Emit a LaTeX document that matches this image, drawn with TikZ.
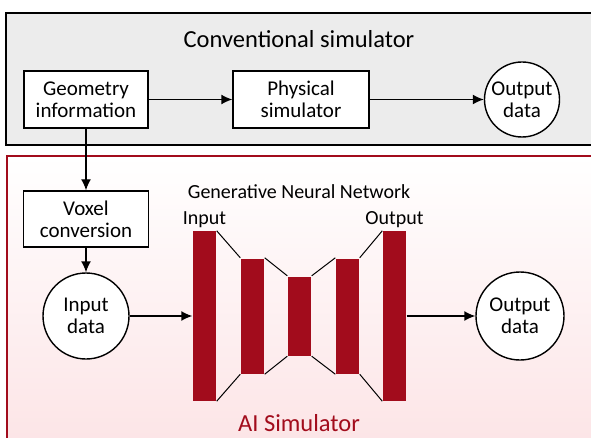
\documentclass[tikz,border=0pt]{standalone}
\usepackage{fontspec}
\setmainfont{Carlito}
\usetikzlibrary{arrows.meta,positioning}
\definecolor{fjred}{RGB}{162,12,28}
\definecolor{panelgray}{RGB}{236,236,236}
\definecolor{panelpink}{RGB}{252,226,228}

\begin{document}
\begin{tikzpicture}[x=1pt,y=-1pt,->,>={Latex[length=11pt,width=10pt]},line width=1.4pt,
                    block/.style={rectangle,draw,fill=white,align=center,inner sep=0pt,
                                  font=\fontsize{21}{22}\selectfont},
                    data/.style={circle,draw,fill=white,align=center,inner sep=0pt,
                                 font=\fontsize{21}{22}\selectfont},
                    layer/.style={rectangle,fill=fjred,minimum width=23pt,inner sep=0pt},
                    caption/.style={font=\fontsize{20}{22}\selectfont,inner sep=1pt}]

  \clip (0,0) rectangle (591,438);

  % the two panels
  \draw[-,line width=1.7pt,fill=panelgray] (6,13) rectangle (620,145);
  \draw[-,line width=1.7pt,draw=fjred,top color=white,bottom color=panelpink] (7,156) rectangle (620,470);

  \node[font=\fontsize{24.5}{26}\selectfont] (convtitle) at (299,39) {Conventional simulator};

  \node[block,minimum width=124pt,minimum height=57pt] (geo)   at (86,99.5)  {Geometry\\information};
  \node[block,minimum width=136pt,minimum height=57pt] (phys)  at (301,99.5) {Physical\\simulator};
  \node[data,minimum size=75pt]                        (outsim) at (522,99.5) {Output\\data};

  \node[block,minimum width=125pt,minimum height=56pt] (voxel) at (86,219)  {Voxel\\conversion};
  \node[data,minimum size=86pt]                        (indata) at (86,316) {Input\\data};
  \node[data,minimum size=88pt]                        (outdata) at (520,316) {Output\\data};

  % generative network layers
  \node[layer,minimum height=169pt] (l1) at (204.5,316) {};
  \node[layer,minimum height=115pt] (l2) at (252.5,316) {};
  \node[layer,minimum height=79pt]  (l3) at (299.5,316) {};
  \node[layer,minimum height=115pt] (l4) at (347.5,316) {};
  \node[layer,minimum height=169pt] (l5) at (394.5,316) {};
  \foreach \a/\b in {l1/l2,l2/l3,l3/l4,l4/l5}
    \draw[-,line width=1pt] (\a.north east) -- (\b.north west)
                            (\a.south east) -- (\b.south west);

  \node[caption] (gnn)     at (299,192)      {Generative Neural Network};
  \node[caption] (inlabel) [above=1pt of l1] {Input};
  \node[caption] (outlabel)[above=1pt of l5] {Output};
  \node[font=\fontsize{24.5}{26}\selectfont,text=fjred] (aisim) at (299,423) {AI Simulator};

  \path (geo)    edge (phys)
        (phys)   edge (outsim)
        (geo)    edge (voxel)
        (voxel)  edge (indata)
        (indata) edge (l1)
        (l5)     edge (outdata);
\end{tikzpicture}
\end{document}
